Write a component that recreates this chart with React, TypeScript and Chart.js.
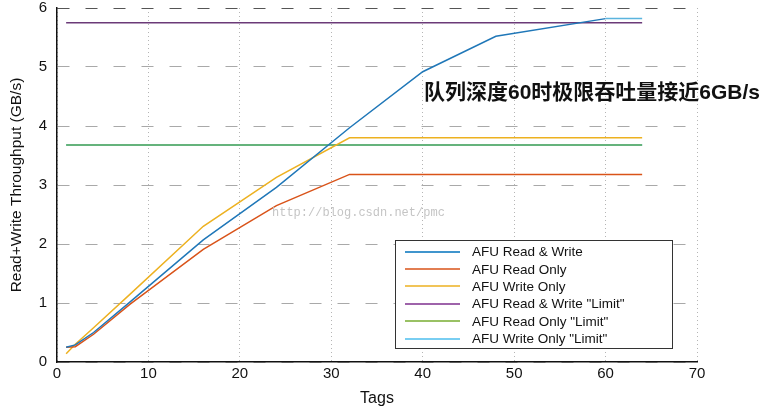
import React, { useEffect, useRef } from "react";
import { Chart, registerables } from "chart.js";

Chart.register(...registerables);

const rwTags = [1, 2, 4, 8, 16, 24, 32, 40, 48, 60, 64];
const rwValues = [0.25, 0.29, 0.5, 1.02, 2.07, 2.96, 3.97, 4.92, 5.52, 5.82, 5.82];

const rTags = [1, 2, 4, 8, 16, 24, 32, 64];
const rValues = [0.25, 0.26, 0.47, 0.98, 1.91, 2.65, 3.18, 3.18];

const wTags = [1, 2, 4, 8, 16, 24, 32, 64];
const wValues = [0.14, 0.3, 0.58, 1.15, 2.3, 3.13, 3.8, 3.8];

const limitTags = [1, 64];
const rwLimit = 5.75;
const rLimit = 3.68;
const wLimit = 3.68;

const seriesLabels = [
  "AFU Read & Write",
  "AFU Read Only",
  "AFU Write Only",
  'AFU Read & Write "Limit"',
  'AFU Read Only "Limit"',
  'AFU Write Only "Limit"',
];
const legendColors = ["#0072BD", "#D95319", "#EDB120", "#7E2F8E", "#77AC30", "#4DBEEE"];

const xTicks = [0, 10, 20, 30, 40, 50, 60, 70];
const yTicks = [0, 1, 2, 3, 4, 5, 6];

const annotationText = "队列深度60时极限吞吐量接近6GB/s";
const watermarkText = "http://blog.csdn.net/pmc";

const toPts = (xs: number[], ys: number[]) => xs.map((x, i) => ({ x, y: ys[i] }));
const flat = (xs: number[], v: number) => xs.map((x) => ({ x, y: v }));

const overlayPlugin = {
  id: "overlay",
  afterDatasetsDraw(chart: any) {
    const ctx = chart.ctx;
    ctx.save();
    ctx.setLineDash([]);
    // watermark
    ctx.font = '12px "Liberation Mono", monospace';
    ctx.fillStyle = "rgba(190,190,190,0.9)";
    ctx.textBaseline = "middle";
    ctx.textAlign = "left";
    ctx.fillText(watermarkText, 272, 213);
    // annotation
    ctx.font = 'bold 21px "Liberation Sans", "Noto Sans CJK SC", sans-serif';
    ctx.fillStyle = "#111";
    ctx.textBaseline = "middle";
    ctx.fillText(annotationText, 424, 93);
    // legend box
    const bx = 395, by = 240, bw = 277, bh = 108;
    ctx.fillStyle = "#fff";
    ctx.fillRect(bx, by, bw, bh);
    ctx.strokeStyle = "#333";
    ctx.lineWidth = 1;
    ctx.strokeRect(bx + 0.5, by + 0.5, bw, bh);
    ctx.font = '13.5px "Liberation Sans", Arial, sans-serif';
    seriesLabels.forEach((lab, i) => {
      const y = by + 11.5 + i * 17.4;
      ctx.strokeStyle = legendColors[i];
      ctx.lineWidth = 1.3;
      ctx.beginPath();
      ctx.moveTo(bx + 10, Math.round(y));
      ctx.lineTo(bx + 65, Math.round(y));
      ctx.stroke();
      ctx.fillStyle = "#111";
      ctx.textBaseline = "middle";
      ctx.fillText(lab, bx + 77, y + 1);
    });
    ctx.restore();
  },
};

export default function App() {
  const ref = useRef<HTMLCanvasElement>(null);
  useEffect(() => {
    document.body.style.margin = "0";
    const chart = new Chart(ref.current!, {
      type: "line",
      data: {
        datasets: [
          {
            label: seriesLabels[5],
            data: flat(limitTags, wLimit),
            borderColor: "#4DBEEE",
            borderWidth: 2,
            pointRadius: 0,
            order: 6,
          },
          {
            label: seriesLabels[4],
            data: flat(limitTags, rLimit),
            borderColor: "rgba(119,172,48,0.6)",
            borderWidth: 2,
            pointRadius: 0,
            order: 5,
          },
          {
            label: seriesLabels[3],
            data: flat(limitTags, rwLimit),
            borderColor: "#6B3A78",
            borderWidth: 1.5,
            pointRadius: 0,
            order: 4,
          },
          {
            label: seriesLabels[2],
            data: toPts(wTags, wValues),
            borderColor: "#EDB120",
            borderWidth: 1.5,
            pointRadius: 0,
            order: 3,
          },
          {
            label: seriesLabels[1],
            data: toPts(rTags, rValues),
            borderColor: "#D95319",
            borderWidth: 1.5,
            pointRadius: 0,
            order: 2,
          },
          {
            label: seriesLabels[0],
            data: toPts(rwTags, rwValues),
            borderColor: "#1f77b8",
            borderWidth: 1.5,
            pointRadius: 0,
            order: 1,
            segment: {
              borderColor: (c: any) => (c.p0.parsed.x >= 60 ? "#5ab4de" : "#1f77b8"),
            },
          } as any,
        ],
      },
      options: {
        responsive: false,
        animation: false,
        layout: { padding: { left: 7, top: 0, right: 68, bottom: 0 } },
        plugins: { legend: { display: false }, tooltip: { enabled: false } },
        scales: {
          x: {
            type: "linear",
            min: 0,
            max: 70,
            afterBuildTicks: (s: any) => {
              s.ticks = xTicks.map((v) => ({ value: v }));
            },
            afterFit: (s: any) => {
              s.height = 46;
            },
            ticks: {
              font: { family: '"Liberation Sans", Arial, sans-serif', size: 15 },
              color: "#111",
              padding: 3,
              maxRotation: 0,
            },
            grid: {
              color: "rgba(150,150,150,0.7)",
              drawTicks: false,
            },
            border: { color: "#111", width: 1.5, dash: [1, 3] } as any,
            title: {
              display: true,
              text: "Tags",
              font: { family: '"Liberation Sans", Arial, sans-serif', size: 16 },
              color: "#111",
              padding: { top: 0, bottom: 0 },
            },
          },
          y: {
            min: 0,
            max: 6,
            afterBuildTicks: (s: any) => {
              s.ticks = yTicks.map((v) => ({ value: v }));
            },
            afterFit: (s: any) => {
              s.width = 50;
              s.paddingTop = 8;
              s.paddingBottom = 0;
            },
            ticks: {
              font: { family: '"Liberation Sans", Arial, sans-serif', size: 15 },
              color: "#111",
              padding: 10,
            },
            grid: {
              color: (c: any) => (c.tick && c.tick.value === 6 ? "#555" : "rgba(140,140,140,0.75)"),
              drawTicks: false,
            },
            border: { color: "#111", width: 1.5, dash: [12, 16] } as any,
            title: {
              display: true,
              text: "Read+Write Throughput (GB/s)",
              font: { family: '"Liberation Sans", Arial, sans-serif', size: 15.5 },
              color: "#111",
              padding: { top: 0, bottom: 4 },
            },
          },
        },
      },
      plugins: [overlayPlugin],
    } as any);
    return () => chart.destroy();
  }, []);
  return (
    <div style={{ position: "absolute", left: 0, top: 0, width: 765, height: 408, background: "#fff" }}>
      <canvas ref={ref} width={765} height={408} />
    </div>
  );
}
